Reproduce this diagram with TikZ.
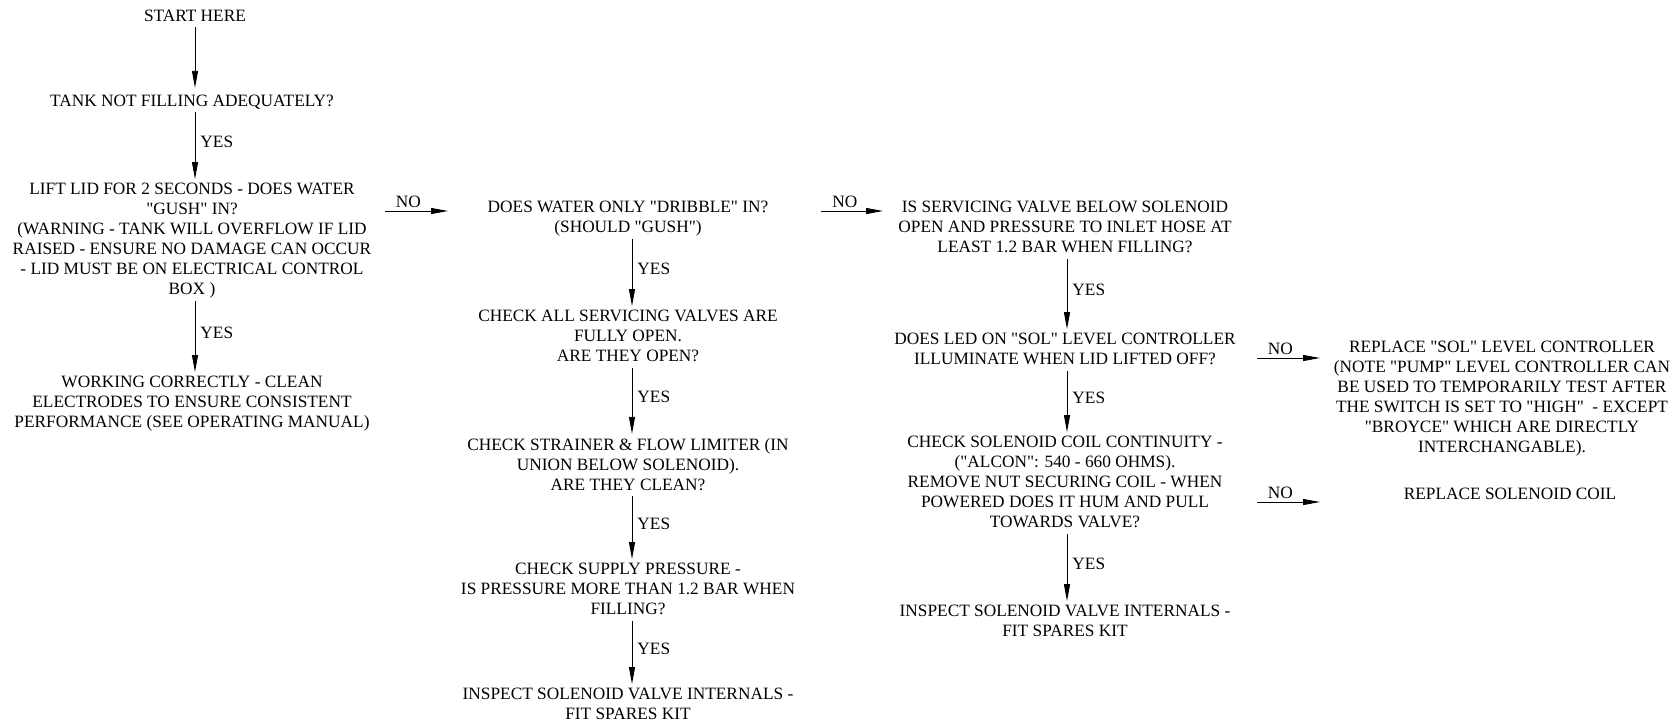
\documentclass[tikz,border=0pt]{standalone}
\usepackage{fontspec}
\newfontfamily\tfont{Liberation Serif}
\usetikzlibrary{arrows.meta}
\begin{document}
\begin{tikzpicture}[x=1pt,y=-1pt,
  txt/.style={align=center,inner sep=0pt,font=\tfont\fontsize{17.3}{20}\selectfont,
    execute at begin node=\strut, execute at end node=\strut},
  lbl/.style={inner sep=0pt,font=\tfont\fontsize{17.3}{20}\selectfont},
  arr/.style={line width=0.9pt,-{Triangle[length=17pt,width=6pt]},shorten >=4pt}]
\useasboundingbox (0,0) rectangle (1679,724);
% column 1
\node[txt] (start) at (195,17) {START HERE};
\node[txt] (tank) at (192,102) {TANK NOT FILLING ADEQUATELY?};
\node[txt] (lift) at (192,242) {LIFT LID FOR 2 SECONDS - DOES WATER\\ "GUSH" IN?\\ (WARNING - TANK WILL OVERFLOW IF LID\\ RAISED - ENSURE NO DAMAGE CAN OCCUR\\ - LID MUST BE ON ELECTRICAL CONTROL\\ BOX )};
\node[txt] (work) at (192,405) {WORKING CORRECTLY - CLEAN\\ ELECTRODES TO ENSURE CONSISTENT\\ PERFORMANCE (SEE OPERATING MANUAL)};
% column 2
\node[txt] (dribble) at (628,220) {DOES WATER ONLY "DRIBBLE" IN?\\ (SHOULD "GUSH")};
\node[txt] (valves) at (628,339) {CHECK ALL SERVICING VALVES ARE\\ FULLY OPEN.\\ ARE THEY OPEN?};
\node[txt] (strainer) at (628,467) {CHECK STRAINER \& FLOW LIMITER (IN\\ UNION BELOW SOLENOID).\\ ARE THEY CLEAN?};
\node[txt] (supply) at (628,592) {CHECK SUPPLY PRESSURE -\\ IS PRESSURE MORE THAN 1.2 BAR WHEN\\ FILLING?};
\node[txt] (insp1) at (628,707) {INSPECT SOLENOID VALVE INTERNALS -\\ FIT SPARES KIT};
% column 3
\node[txt] (serv) at (1065,230) {IS SERVICING VALVE BELOW SOLENOID\\ OPEN AND PRESSURE TO INLET HOSE AT\\ LEAST 1.2 BAR WHEN FILLING?};
\node[txt] (led) at (1065,352) {DOES LED ON "SOL" LEVEL CONTROLLER\\ ILLUMINATE WHEN LID LIFTED OFF?};
\node[txt] (coil) at (1065,485) {CHECK SOLENOID COIL CONTINUITY -\\ ("ALCON": 540 - 660 OHMS).\\ REMOVE NUT SECURING COIL - WHEN\\ POWERED DOES IT HUM AND PULL\\ TOWARDS VALVE?};
\node[txt] (insp2) at (1065,624) {INSPECT SOLENOID VALVE INTERNALS -\\ FIT SPARES KIT};
% column 4
\node[txt] (replsol) at (1502,400) {REPLACE "SOL" LEVEL CONTROLLER\\ (NOTE "PUMP" LEVEL CONTROLLER CAN\\ BE USED TO TEMPORARILY TEST AFTER\\ THE SWITCH IS SET TO "HIGH"~ - EXCEPT\\ "BROYCE" WHICH ARE DIRECTLY\\ INTERCHANGABLE).};
\node[txt] (replcoil) at (1510,495) {REPLACE SOLENOID COIL};
% arrow columns
\coordinate (c1) at (195,0);
\coordinate (c2) at (632,0);
\coordinate (c3) at (1067,0);
\draw[arr] (start.south -| c1) -- (tank.north -| c1);
\draw[arr] (tank.south -| c1) -- node[lbl,pos=0.42,right=5pt]{YES} (lift.north -| c1);
\draw[arr] (lift.south -| c1) -- node[lbl,pos=0.42,right=5pt]{YES} (work.north -| c1);
\draw[arr] (dribble.south -| c2) -- node[lbl,pos=0.42,right=5pt]{YES} (valves.north -| c2);
\draw[arr] (valves.south -| c2) -- node[lbl,pos=0.42,right=5pt]{YES} (strainer.north -| c2);
\draw[arr] (strainer.south -| c2) -- node[lbl,pos=0.42,right=5pt]{YES} (supply.north -| c2);
\draw[arr] (supply.south -| c2) -- node[lbl,pos=0.42,right=5pt]{YES} (insp1.north -| c2);
\draw[arr] (serv.south -| c3) -- node[lbl,pos=0.42,right=5pt]{YES} (led.north -| c3);
\draw[arr] (led.south -| c3) -- node[lbl,pos=0.42,right=5pt]{YES} (coil.north -| c3);
\draw[arr] (coil.south -| c3) -- node[lbl,pos=0.42,right=5pt]{YES} (insp2.north -| c3);
% NO arrows
\coordinate (n1s) at (385,211); \coordinate (n1e) at (452,211);
\coordinate (n2s) at (821,211); \coordinate (n2e) at (887,211);
\coordinate (n3s) at (1257,358); \coordinate (n3e) at (1324,358);
\coordinate (n4s) at (1257,502); \coordinate (n4e) at (1324,502);
\draw[arr] (n1s) -- node[lbl,pos=0.35,above=3pt]{NO} (n1e);
\draw[arr] (n2s) -- node[lbl,pos=0.36,above=3pt]{NO} (n2e);
\draw[arr] (n3s) -- node[lbl,pos=0.35,above=3pt]{NO} (n3e);
\draw[arr] (n4s) -- node[lbl,pos=0.35,above=3pt]{NO} (n4e);
\end{tikzpicture}
\end{document}
